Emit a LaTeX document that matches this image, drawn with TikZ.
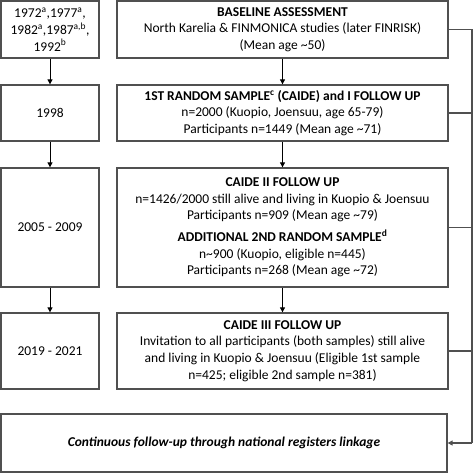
\documentclass[tikz,border=0pt]{standalone}
\usepackage{fontspec}
\setmainfont{Carlito}
\usetikzlibrary{arrows.meta}
\definecolor{ln}{HTML}{505050}
\begin{document}
\begin{tikzpicture}[x=1pt,y=-1pt,
  box/.style={draw=ln,line width=1.3pt,align=center,inner sep=0pt,font=\fontsize{13.5}{16.6}\selectfont},
  arr/.style={draw=black,line width=0.9pt,-{Triangle[length=5pt,width=5pt]}},
  lnk/.style={draw=ln,line width=1.1pt}]
\useasboundingbox (0,0) rectangle (474,473);
% left column
\node[box,minimum width=98pt,minimum height=57pt] (l1) at (50,29.5) {1972\textsuperscript{a},1977\textsuperscript{a},\\1982\textsuperscript{a},1987\textsuperscript{a,b},\\1992\textsuperscript{b}};
\node[box,minimum width=98pt,minimum height=56pt] (l2) at (50,113) {1998};
\node[box,minimum width=98pt,minimum height=119pt] (l3) at (50,227.5) {2005 - 2009};
\node[box,minimum width=98pt,minimum height=76pt] (l4) at (50,351) {2019 - 2021};
% right column
\node[box,minimum width=331pt,minimum height=57pt] (r1) at (282.5,29.5) {\textbf{BASELINE ASSESSMENT}\\North Karelia \& FINMONICA studies (later FINRISK)\\(Mean age \textasciitilde50)};
\node[box,minimum width=331pt,minimum height=56pt] (r2) at (282.5,113) {\textbf{1ST RANDOM SAMPLE\textsuperscript{c} (CAIDE) and I FOLLOW UP}\\n=2000 (Kuopio, Joensuu, age 65-79)\\Participants n=1449 (Mean age \textasciitilde71)};
\node[box,minimum width=331pt,minimum height=119pt] (r3) at (282.5,227.5) {\textbf{CAIDE II FOLLOW UP}\\n=1426/2000 still alive and living in Kuopio \& Joensuu\\Participants n=909 (Mean age \textasciitilde79)\\[5pt]\textbf{ADDITIONAL 2ND RANDOM SAMPLE\textsuperscript{d}}\\n\textasciitilde900 (Kuopio, eligible n=445)\\Participants n=268 (Mean age \textasciitilde72)};
\node[box,minimum width=331pt,minimum height=76pt] (r4) at (282.5,351) {\textbf{CAIDE III FOLLOW UP}\\Invitation to all participants (both samples) still alive\\and living in Kuopio \& Joensuu (Eligible 1st sample\\n=425; eligible 2nd sample n=381)};
% bottom
\node[box,minimum width=446pt,minimum height=58pt] (b) at (224,443) {\textbf{\itshape Continuous follow-up through national registers linkage}};
% arrows
\draw[arr] (l1) -- (l2);
\draw[arr] (l2) -- (l3);
\draw[arr] (l3) -- (l4);
\draw[arr] (r1) -- (r2);
\draw[arr] (r2) -- (r3);
\draw[arr] (r3) -- (r4);
% rail
\coordinate (railtop) at (472,29.5);
\coordinate (railbot) at (472,443);
\draw[lnk] (r1.east) -- (railtop);
\draw[lnk] (r2.east) -- (r2.east -| railtop);
\draw[lnk] (r3.east) -- (r3.east -| railtop);
\draw[lnk] (r4.east) -- (r4.east -| railtop);
\draw[lnk] (railtop) -- (railbot);
\draw[lnk,-{Triangle[length=5pt,width=5pt]}] (railbot) -- (b.east);
\end{tikzpicture}
\end{document}
